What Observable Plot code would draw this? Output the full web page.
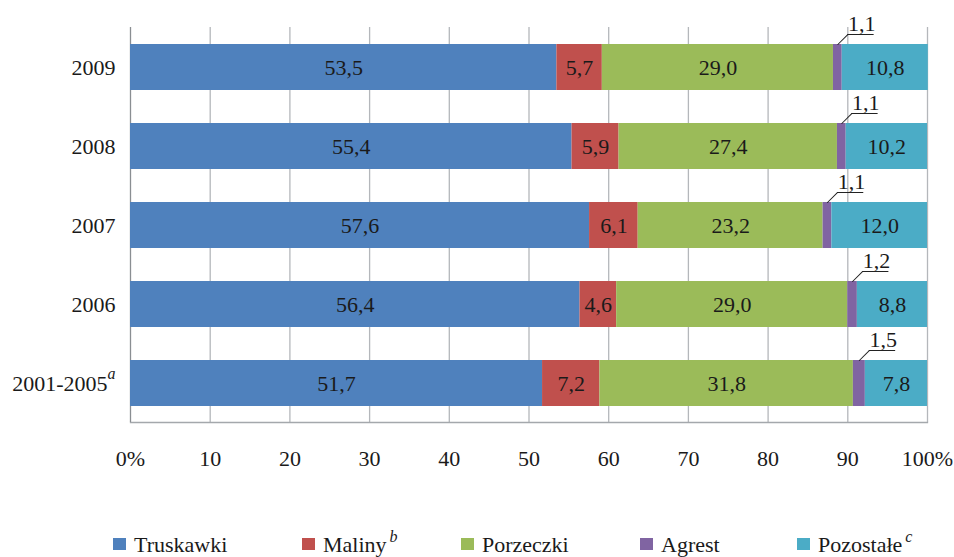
<!DOCTYPE html>
<html>
<head>
<meta charset="utf-8">
<script src="https://cdn.jsdelivr.net/npm/d3@7"></script>
<script src="https://cdn.jsdelivr.net/npm/@observablehq/plot@0.6"></script>
<style>
  body { margin: 0; background: #fff; font-family: 'Liberation Serif', serif; }
  #wrap { position: relative; width: 954px; height: 557px; }
  #wrap svg, #wrap svg text { font-family: 'Liberation Serif', serif !important; }
  .sw { position: absolute; top: 538px; width: 13px; height: 12px; }
  .lt { position: absolute; top: 532px; font-family: 'Liberation Serif', serif; font-size: 22px; line-height: 25px; color: #1a1a1a; white-space: nowrap; }
  .lt sup { font-style: italic; font-size: 16px; vertical-align: 0; position: relative; top: -10px; margin-left: 3px; }
</style>
</head>
<body>
<div id="wrap"></div>
<script>
const years = ["2009", "2008", "2007", "2006", "2001-2005"];
const series = ["Truskawki", "Maliny", "Porzeczki", "Agrest", "Pozostałe"];
const truskawki = [53.5, 55.4, 57.6, 56.4, 51.7];
const maliny    = [5.7, 5.9, 6.1, 4.6, 7.2];
const porzeczki = [29.0, 27.4, 23.2, 29.0, 31.8];
const agrest    = [1.1, 1.1, 1.1, 1.2, 1.5];
const pozostale = [10.8, 10.2, 12.0, 8.8, 7.8];
const colors = ["#4F81BD", "#C0504D", "#9BBB59", "#8064A2", "#4BACC6"];
const xTicks = [0, 10, 20, 30, 40, 50, 60, 70, 80, 90, 100];
const legendSup = {"Maliny": "b", "Pozostałe": "c"};
const legendX = [113, 302, 461, 640, 797];

const valuesBySeries = [truskawki, maliny, porzeczki, agrest, pozostale];
const rows = [];
years.forEach((y, i) => {
  let acc = 0;
  series.forEach((s, j) => {
    const v = valuesBySeries[j][i];
    rows.push({year: y, series: s, value: v, x1: acc, x2: acc + v, mid: acc + v / 2});
    acc += v;
  });
});
const fmt = v => v.toFixed(1).replace(".", ",");
const inside = rows.filter(d => d.series !== "Agrest");
const agr = rows.filter(d => d.series === "Agrest");

const leader = {draw(ctx, l) { ctx.moveTo(0, 0); ctx.lineTo(0, -l); }};
const FONT = "Liberation Serif";

const chart = Plot.plot({
  width: 954,
  height: 490,
  marginTop: 27,
  marginBottom: 68,
  marginLeft: 130,
  marginRight: 27,
  style: {fontFamily: "'Liberation Serif', serif", fontSize: "22px", color: "#1a1a1a", background: "#fff"},
  x: {domain: [0, 100], ticks: xTicks, tickFormat: d => d === 0 || d === 100 ? d + "%" : String(d), tickSize: 0, tickPadding: 28, label: null},
  y: {domain: years, paddingInner: 0.418, paddingOuter: 0.209, tickSize: 0, tickPadding: 15, label: null},
  color: {domain: series, range: colors},
  marks: [
    Plot.ruleX(xTicks.filter(t => t > 0), {x: d => d, stroke: "#b4b7bb", strokeWidth: 1.3}),
    Plot.frame({anchor: "bottom", stroke: "#a4a8ac", strokeWidth: 1.3}),
    Plot.ruleX([0], {stroke: "#8a8e92", strokeWidth: 1.3}),
    Plot.barX(rows, {x1: "x1", x2: "x2", y: "year", fill: "series"}),
    Plot.text(inside, {x: "mid", y: "year", text: d => fmt(d.value), fill: "#1a1a1a", fontSize: 22, fontFamily: FONT}),
    Plot.vector(agr, {x: "mid", y: "year", dy: -23, length: 14, rotate: 45, anchor: "start", shape: leader, stroke: "#222", strokeWidth: 1}),
    Plot.ruleY(agr, {y: "year", x1: "mid", x2: d => d.mid + 3.3, dx: 10, dy: -33, stroke: "#222", strokeWidth: 1}),
    Plot.text(agr, {x: "mid", y: "year", dx: 24, dy: -44, text: d => fmt(d.value), fill: "#1a1a1a", fontSize: 22, fontFamily: FONT})
  ]
});

// superscript "a" on the 2001-2005 tick label
d3.select(chart).selectAll("g[aria-label='y-axis tick label'] text").each(function() {
  const t = d3.select(this);
  if (t.text() === "2001-2005") {
    t.append("tspan").attr("dy", "-0.7em").attr("font-size", "16px").attr("font-style", "italic").text("a");
  }
});

const wrap = document.getElementById("wrap");
wrap.appendChild(chart);
series.forEach((s, j) => {
  const sw = document.createElement("div");
  sw.className = "sw";
  sw.style.left = legendX[j] + "px";
  sw.style.background = colors[j];
  wrap.appendChild(sw);
  const lt = document.createElement("div");
  lt.className = "lt";
  lt.style.left = (legendX[j] + 21) + "px";
  lt.innerHTML = s + (legendSup[s] ? `<sup>${legendSup[s]}</sup>` : "");
  wrap.appendChild(lt);
});
</script>
</body>
</html>
